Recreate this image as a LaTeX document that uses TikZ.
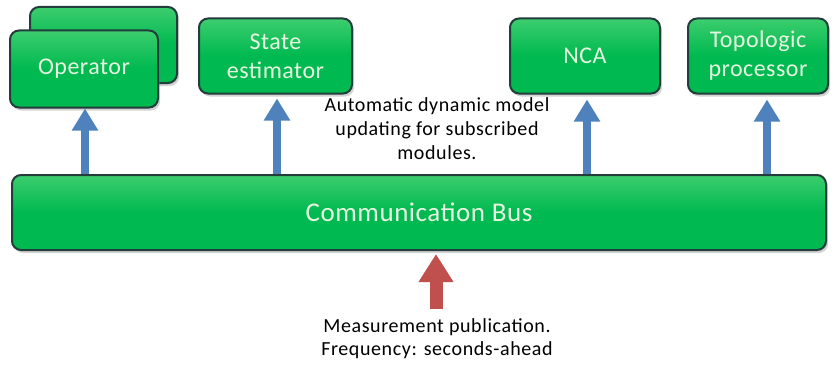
\documentclass[tikz,border=0pt]{standalone}
\usepackage{fontspec}
\setmainfont{Carlito}
\usetikzlibrary{arrows.meta,shadows,calc}
\definecolor{boxgreen}{RGB}{0,185,80}
\definecolor{boxtop}{RGB}{60,205,110}
\definecolor{boxedge}{RGB}{35,60,60}
\definecolor{boxtext}{RGB}{232,245,225}
\definecolor{upblue}{RGB}{79,129,189}
\definecolor{upred}{RGB}{192,80,77}
\tikzset{
  gbox/.style={draw=boxedge, line width=2pt, rounded corners=9pt,
    top color=boxtop, bottom color=boxgreen, middle color=boxgreen,
    text=boxtext, align=center, inner sep=0pt,
    drop shadow={shadow xshift=2pt, shadow yshift=-3pt, opacity=0.35},
    font=\fontsize{24}{29}\selectfont\addfontfeatures{LetterSpace=2}},
  uparrow/.style={draw=upblue, line width=8pt, -{Triangle[width=25pt,length=22pt]}},
  redarrow/.style={draw=upred, line width=13pt, -{Triangle[width=33pt,length=28pt]}},
  note/.style={align=center, text=black, inner sep=0pt,
    font=\fontsize{20}{24}\selectfont\addfontfeatures{LetterSpace=3}}
}
\begin{document}
\begin{tikzpicture}[x=1pt,y=-1pt]
\useasboundingbox (0,0) rectangle (834,369);
% boxes
\node[gbox, minimum width=147pt, minimum height=76pt] (opback) at (103.5,45) {};
\node[gbox, minimum width=148pt, minimum height=77pt] (op) at (84,69) {Operator};
\node[gbox, minimum width=153pt, minimum height=75pt] (se) at (275.5,56) {State\\estimator};
\node[gbox, minimum width=150pt, minimum height=75pt] (nca) at (585,56) {NCA};
\node[gbox, minimum width=140pt, minimum height=75pt] (topo) at (758,56) {Topologic\\processor};
\node[gbox, minimum width=814pt, minimum height=75pt, font=\fontsize{27}{30}\selectfont\addfontfeatures{LetterSpace=2}] (bus) at (419,212.5) {Communication Bus};
% notes
\node[note] (auto) at (437,129) {Automatic dynamic model\\updating for subscribed\\modules.};
\node[note, font=\fontsize{20}{23}\selectfont\addfontfeatures{LetterSpace=3}] (meas) at (437,339) {Measurement publication.\\Frequency: seconds-ahead};
% arrows
\coordinate (opt) at ($(op.south)+(1,0)$);
\coordinate (set) at ($(se.south)+(1.5,4)$);
\coordinate (ncat) at ($(nca.south)+(2,5)$);
\coordinate (topot) at ($(topo.south)+(9,5)$);
\draw[uparrow] (bus.north -| opt) -- (opt);
\draw[uparrow] (bus.north -| set) -- (set);
\draw[uparrow] (bus.north -| ncat) -- (ncat);
\draw[uparrow] (bus.north -| topot) -- (topot);
\coordinate (redtip) at ($(bus.south)+(17,3)$);
\coordinate (redbase) at ($(meas.north)+(-1,-10)$);
\draw[redarrow] (redbase -| redtip) -- (redtip);
\end{tikzpicture}
\end{document}
